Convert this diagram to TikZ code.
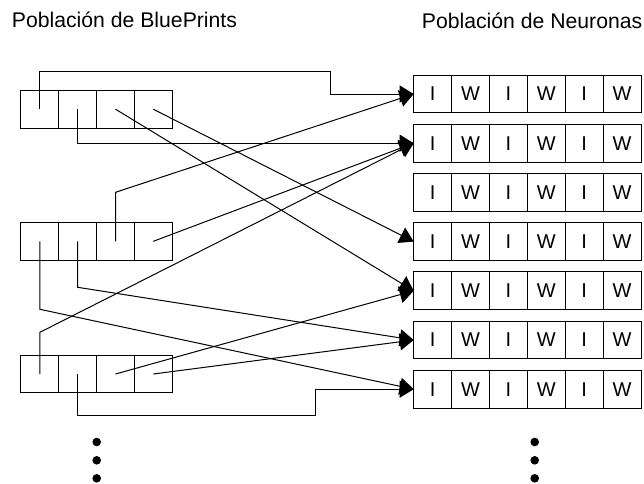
\documentclass[tikz,border=0pt]{standalone}
\usepackage{fontspec}
\setmainfont{Liberation Sans}
\usetikzlibrary{arrows.meta}
\begin{document}
\begin{tikzpicture}[x=1pt,y=-1pt,
  cellbox/.style={draw=black, line width=1pt, minimum width=37.9pt, minimum height=37.9pt,
    inner sep=0pt, outer sep=0pt, font=\fontsize{20}{24}\selectfont},
  link/.style={draw=black, line width=1pt, -{Triangle[length=14pt,width=17pt]}},
  heading/.style={anchor=base west, inner sep=0pt, font=\fontsize{21.2}{25}\selectfont},
  ellipsisdot/.style={fill=black, circle, minimum size=8.6pt, inner sep=0pt}]
\useasboundingbox (0,0) rectangle (644,483);

% headings
\node[heading] (t1) at (11.7,27.3) {Población de BluePrints};
\node[heading] (t2) at (421.7,28) {Población de Neuronas};

% blueprint population: three strings of four cells
\foreach \b/\yc in {1/109.2,2/241.3,3/374}
  \foreach \c in {1,...,4}
    \node[cellbox] (b\b-\c) at ({21+37.8*(\c-0.5)},\yc) {};

% neuron population: seven rows of I/W cells
\foreach \r in {1,...,7}
  \foreach \c/\t in {1/I,2/W,3/I,4/W,5/I,6/W}
    \node[cellbox] (n\r-\c) at ({413.7+37.9*(\c-0.5)},{94+49.2*(\r-1)}) {\t};

% bend points
\coordinate (k1) at (330.7,71);
\coordinate (k2) at (39.9,309.3);
\coordinate (k3) at (77.7,287.3);
\coordinate (k4) at (115.5,192.3);
\coordinate (k5) at (39.9,332.3);
\coordinate (k6) at (315.3,415.7);

% links from blueprint cells to neurons
\draw[link] (b1-1.center) |- (k1) |- (n1-1.west);
\draw[link] (b1-2.center) |- (n2-1.west);
\draw[link] (b1-3.center) -- (n5-1.west);
\draw[link] (b1-4.center) -- (n4-1.west);

\draw[link] (b2-1.center) -- (k2) -- (n7-1.west);
\draw[link] (b2-2.center) -- (k3) -- (n6-1.west);
\draw[link] (b2-3.center) -- (k4) -- (n1-1.west);
\draw[link] (b2-4.center) -- (n2-1.west);

\draw[link] (b3-1.center) -- (k5) -- (n2-1.west);
\draw[link] (b3-2.center) |- (k6) |- (n7-1.west);
\draw[link] (b3-3.center) -- (n5-1.west);
\draw[link] (b3-4.center) -- (n6-1.west);

% continuation dots
\foreach \y [count=\i] in {442,460.3,478.3} {
  \node[ellipsisdot] (dl\i) at (96.7,\y) {};
  \node[ellipsisdot] (dr\i) at (534.7,\y) {};
}
\end{tikzpicture}
\end{document}
